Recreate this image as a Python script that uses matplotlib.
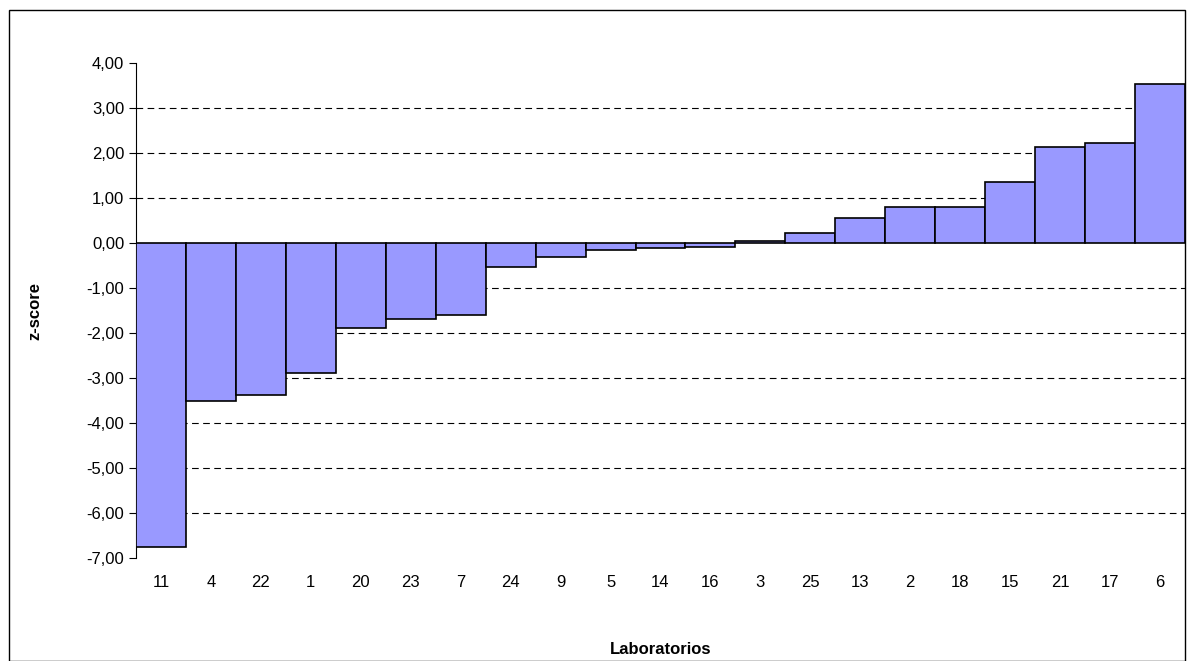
import matplotlib
matplotlib.use("Agg")
import matplotlib.pyplot as plt
from matplotlib.patches import Rectangle

labs = ["11","4","22","1","20","23","7","24","9","5","14","16","3","25","13","2","18","15","21","17","6"]
vals = [-6.76,-3.51,-3.38,-2.89,-1.88,-1.69,-1.60,-0.53,-0.30,-0.16,-0.12,-0.08,0.04,0.23,0.55,0.80,0.80,1.35,2.13,2.23,3.53]

fig = plt.figure(figsize=(11.87,6.61), dpi=100)
fig.patches.append(Rectangle((0.008,0.0),0.99,0.985, transform=fig.transFigure, fill=False, edgecolor="black", lw=1))
ax = fig.add_axes([136/1187, 1-558/661, (1185-136)/1187, (558-63)/661])
x = range(len(vals))
ax.bar(x, vals, width=1.0, color="#9999FF", edgecolor="black", linewidth=1.2, zorder=3)
ax.set_xlim(-0.5, len(vals)-0.5)
ax.set_ylim(-7, 4)
ax.set_yticks(range(-7,5))
ax.set_yticklabels([f"{v:.2f}".replace(".", ",") for v in range(-7,5)], fontsize=12, family="Liberation Sans")
for g in range(-6,4):
    if g != 0:
        ax.axhline(g, linestyle=(0,(6,4)), color="black", lw=0.8, zorder=0)
ax.set_xticks(list(x))
ax.set_xticklabels(labs, fontsize=12, family="Liberation Sans")
ax.tick_params(axis="x", length=0, pad=12)
ax.tick_params(axis="y", length=5, direction="out")
for s in ["top","right","bottom"]:
    ax.spines[s].set_visible(False)
fig.text((136+1185)/2/1187, 1-650/661, "Laboratorios", fontsize=12, fontweight="bold", family="Liberation Sans", ha="center", va="center")
ax.set_ylabel("z-score", fontsize=12, fontweight="bold", family="Liberation Sans", labelpad=32)
fig.savefig("out.png", dpi=100)
